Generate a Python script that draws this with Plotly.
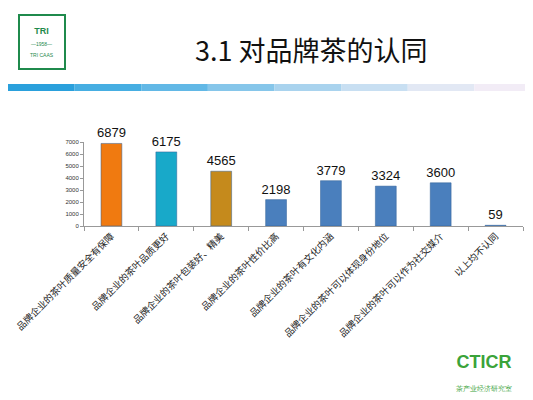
import plotly.graph_objects as go

categories = [
    "品牌企业的茶叶质量安全有保障",
    "品牌企业的茶叶品质更好",
    "品牌企业的茶叶包装好、精美",
    "品牌企业的茶叶性价比高",
    "品牌企业的茶叶有文化内涵",
    "品牌企业的茶叶可以体现身份地位",
    "品牌企业的茶叶可以作为社交媒介",
    "以上均不认同",
]
counts = [6879, 6175, 4565, 2198, 3779, 3324, 3600, 59]
bar_colors = ["#f07a10", "#18a9c9", "#c58a1c", "#4a7fbd", "#4a7fbd", "#4a7fbd", "#4a7fbd", "#4a7fbd"]

OFFX, OFFY = 2, 8
L, T, R, B = 78 - OFFX, 142 - OFFY, 517 - OFFX, 226 - OFFY
PW, PH = R - L, B - T


def px(x):
    return (x - OFFX - L) / PW


def py(y):
    return (B - (y - OFFY)) / PH


fig = go.Figure()
fig.add_trace(go.Bar(
    x=categories, y=counts,
    width=0.38,
    marker=dict(color=bar_colors, line=dict(color="#2f5f96", width=0.5)),
    text=[str(v) for v in counts],
    textposition="outside",
    constraintext="none",
    textfont=dict(family="Liberation Sans, Arial", size=13, color="#111"),
    cliponaxis=False,
))

# blue header rule fading to the right
steps = ["#2aa0dc", "#46aee2", "#62b8e6", "#86c6ea", "#a9d3ee", "#c8dff2", "#e2e8f4", "#f2ecf6"]
for i, c in enumerate(steps):
    fig.add_shape(type="rect", xref="paper", yref="paper",
                  x0=px(OFFX + i * 533 / len(steps)), x1=px(OFFX + (i + 1) * 533 / len(steps)),
                  y0=py(91), y1=py(84),
                  fillcolor=c, line_width=0, layer="below")

fig.add_annotation(text="3.1 对品牌茶的认同", xref="paper", yref="paper",
                   x=px(305), y=py(50), xanchor="center", yanchor="middle", showarrow=False,
                   font=dict(family="Noto Sans CJK SC", size=27, color="#111"))
fig.add_annotation(text="<b>TRI</b><br><span style='font-size:5px'>—1958—<br>TRI CAAS</span>", xref="paper", yref="paper",
                   x=px(36), y=py(42), xanchor="center", yanchor="middle", showarrow=False,
                   font=dict(family="Liberation Sans", size=9, color="#1f8a4c"),
                   bordercolor="#1f8a4c", borderwidth=2, borderpad=10)
fig.add_annotation(text="<b>CTICR</b><br><span style='font-size:7px'>茶产业经济研究室</span>", xref="paper", yref="paper",
                   x=px(478), y=py(372), xanchor="center", yanchor="middle", showarrow=False,
                   font=dict(family="Liberation Sans", size=18, color="#3aa33a"))

fig.update_layout(
    width=533, height=400,
    margin=dict(l=L, r=533 - R, t=T, b=400 - B, autoexpand=False),
    paper_bgcolor="white", plot_bgcolor="white",
    showlegend=False,
    bargap=0.6,
    xaxis=dict(automargin=False, showline=True, linecolor="#999", ticks="outside", tickson="boundaries",
               ticklen=4, tickcolor="#999", tickangle=-45,
               tickfont=dict(family="Noto Sans CJK SC", size=9.5, color="#222")),
    yaxis=dict(automargin=False, range=[0, 7000], dtick=1000, showgrid=False, showline=True,
               linecolor="#999", ticks="outside", ticklen=3, tickcolor="#999",
               tickfont=dict(family="Liberation Sans", size=6, color="#333")),
)
fig.write_html("out.html")
